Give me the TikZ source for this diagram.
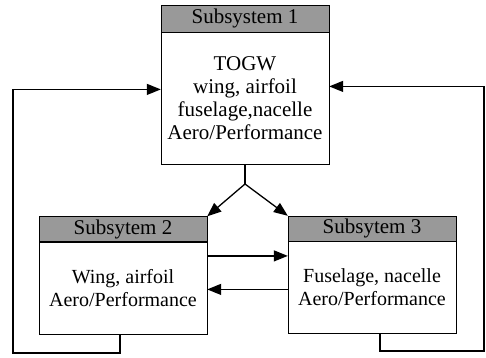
\documentclass[tikz,border=0pt]{standalone}
\usepackage{fontspec}
\setmainfont{Liberation Serif}
\usetikzlibrary{positioning,arrows.meta}

\tikzset{
  hdr/.style={draw, fill=black!40, minimum width=168pt, minimum height=25pt,
    inner sep=0pt, font=\fontsize{21}{23}\selectfont},
  body/.style={draw, fill=white, minimum width=168pt, align=center,
    inner sep=0pt, font=\fontsize{20}{23}\selectfont},
  arr/.style={line width=1.3pt, -{Triangle[length=14pt,width=11pt]}},
  wire/.style={line width=1.3pt}
}

\begin{document}
\begin{tikzpicture}[x=1pt,y=-1pt]
  \useasboundingbox (0,0) rectangle (486,357);

  % subsystem 1
  \node[hdr, minimum height=27pt] (hdr1) at (245,18.5) {Subsystem 1};
  \node[body, minimum height=132pt, below=0pt of hdr1,
        font=\fontsize{21}{23}\selectfont] (sub1)
    {TOGW\\wing, airfoil\\fuselage,nacelle\\Aero/Performance};

  % subsystems 2 and 3
  \node[hdr] (hdr2) at (123,229) {Subsytem 2};
  \node[body, minimum height=92pt, below=0pt of hdr2] (sub2)
    {Wing, airfoil\\Aero/Performance};

  \node[hdr] (hdr3) at (372,228.5) {Subsytem 3};
  \node[body, minimum height=92pt, below=0pt of hdr3] (sub3)
    {Fuselage, nacelle\\Aero/Performance};

  % split below subsystem 1
  \coordinate (split) at (sub1.south |- 0,184);
  \draw[wire] (sub1.south) -- (split);
  \draw[arr] (split) -- (hdr2.north east);
  \draw[arr] (split) -- (hdr3.north west);

  % exchange between 2 and 3
  \draw[arr] ([yshift=32pt]sub2.east) -- ([yshift=32pt]sub2.east -| sub3.west);
  \draw[arr] ([yshift=-2pt]sub3.west) -- ([yshift=-2pt]sub3.west -| sub2.east);

  % feedback loops
  \coordinate (fbL) at (13,353);
  \coordinate (fbR) at (484,351);
  \draw[arr] ([xshift=-3pt]sub2.south) |- (fbL) |- ([yshift=9pt]sub1.west);
  \draw[arr] ([xshift=8pt]sub3.south) |- (fbR) |- ([yshift=12pt]sub1.east);
\end{tikzpicture}
\end{document}
